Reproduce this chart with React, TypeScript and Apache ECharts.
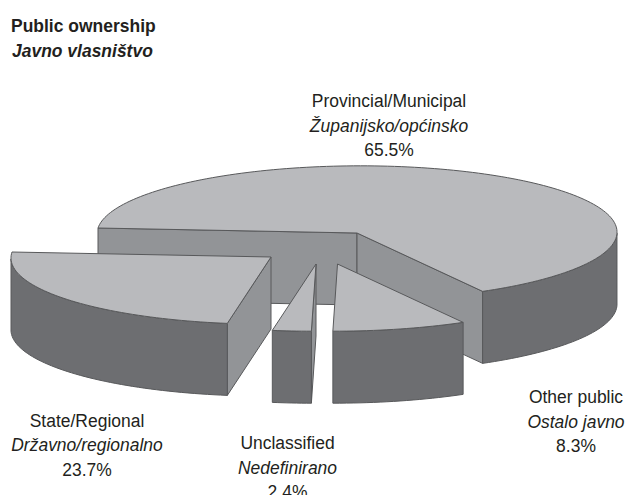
import React, { useEffect, useRef } from "react";
import * as echarts from "echarts";

// Share of each ownership class, in drawing order, clockwise from the left of the disc.
const categories = ["Provincial/Municipal", "Other public", "Unclassified", "State/Regional"];
const categoriesHr = ["Županijsko/općinsko", "Ostalo javno", "Nedefinirano", "Državno/regionalno"];
const values = [65.5, 8.3, 2.4, 23.7];

const headingLines = ["Public ownership", "Javno vlasništvo"];

// Where each slice's apex sits once exploded, and where its caption is centred.
const apexes = [
  [357, 233],
  [337.5, 264],
  [316, 264],
  [271, 257],
];
const captionAnchors = [
  [389, 125],
  [576, 421],
  [287.5, 467],
  [87, 444.5],
];

// Oblique projection of the unit circle onto the page.
const AXIS_U = [259, 5];
const AXIS_V = [-23, 67];
const DEPTH = 72;
const START_ANGLE = 180;

const TOP_COLOR = "#b9babd";
const OUTER_COLOR = "#6d6e71";
const CUT_COLOR = "#929497";
const EDGE_COLOR = "#58595b";
const TEXT_COLOR = "#231f20";
const FONT = '"Liberation Sans", Arial, sans-serif';
const FONT_SIZE = 19;
const TEXT_SQUEEZE = 0.92;

const rad = (d: number) => (d * Math.PI) / 180;
const rimOffset = (deg: number) => [
  AXIS_U[0] * Math.cos(rad(deg)) + AXIS_V[0] * Math.sin(rad(deg)),
  AXIS_U[1] * Math.cos(rad(deg)) + AXIS_V[1] * Math.sin(rad(deg)),
];
// The rim faces the viewer wherever it moves leftwards as the angle grows.
const faceFront = (deg: number) =>
  -AXIS_U[0] * Math.sin(rad(deg)) + AXIS_V[0] * Math.cos(rad(deg)) < 0;

const total = values.reduce((a, b) => a + b, 0);

function face(points: number[][], fill: string) {
  return {
    type: "polygon",
    shape: { points },
    style: { fill, stroke: EDGE_COLOR, lineWidth: 1, lineJoin: "round" },
  };
}

function renderSlice(params: any, api: any) {
  const i = params.dataIndex;
  const before = values.slice(0, i).reduce((a, b) => a + b, 0);
  const from = START_ANGLE + (before / total) * 360;
  const sweep = (api.value(0) / total) * 360;
  const to = from + sweep;
  const [ax, ay] = apexes[i];

  const steps = Math.max(8, Math.round(sweep / 1.5));
  const angles: number[] = [];
  for (let k = 0; k <= steps; k++) angles.push(from + (sweep * k) / steps);

  const rim = angles.map((a) => {
    const [dx, dy] = rimOffset(a);
    return [ax + dx, ay + dy];
  });
  const children: any[] = [];

  // Cut faces: a radial wall shows if the ground below its edge lies outside the slice.
  const mid = rimOffset(from + sweep / 2);
  [from, to].forEach((a) => {
    const [ex, ey] = rimOffset(a);
    const downSide = ex;
    const sliceSide = ex * mid[1] - ey * mid[0];
    if (downSide * sliceSide < 0) {
      children.push(
        face(
          [
            [ax, ay],
            [ax + ex, ay + ey],
            [ax + ex, ay + ey + DEPTH],
            [ax, ay + DEPTH],
          ],
          CUT_COLOR,
        ),
      );
    }
  });

  // Outer wall along the part of the rim turned to the viewer.
  const front = rim.filter((_, k) => faceFront(angles[k]));
  if (front.length > 1) {
    const lower = front.map(([x, y]) => [x, y + DEPTH]).reverse();
    children.push(face([...front, ...lower], OUTER_COLOR));
  }

  children.push(face([[ax, ay], ...rim], TOP_COLOR));
  return { type: "group", children };
}

function captionText(i: number) {
  const line = { fontFamily: FONT, fontSize: FONT_SIZE, lineHeight: 24.5, fill: TEXT_COLOR };
  return {
    type: "text",
    x: captionAnchors[i][0],
    y: captionAnchors[i][1],
    scaleX: TEXT_SQUEEZE,
    style: {
      text: `{a|${categories[i]}}\n{b|${categoriesHr[i]}}\n{a|${values[i].toFixed(1)}%}`,
      align: "center",
      verticalAlign: "middle",
      fill: TEXT_COLOR,
      rich: {
        a: line,
        b: { ...line, fontStyle: "italic" },
      },
    },
  };
}

function headingText(text: string, x: number, y: number, fontStyle: string) {
  return {
    type: "text",
    x,
    y,
    scaleX: TEXT_SQUEEZE,
    style: {
      text,
      fontFamily: FONT,
      fontSize: FONT_SIZE,
      fontWeight: "bold",
      fontStyle,
      fill: TEXT_COLOR,
      verticalAlign: "middle",
    },
  };
}

export default function App() {
  const ref = useRef<HTMLDivElement>(null);

  useEffect(() => {
    document.body.style.margin = "0";
    const chart = echarts.init(ref.current!, undefined, { renderer: "svg" });
    chart.setOption({
      animation: false,
      backgroundColor: "#ffffff",
      series: [
        {
          type: "custom",
          coordinateSystem: "none",
          clip: false,
          renderItem: renderSlice,
          data: values.map((v, i) => ({ name: categories[i], value: [v] })),
        },
      ],
      graphic: [
        headingText(headingLines[0], 11, 25.5, "normal"),
        headingText(headingLines[1], 12, 50.5, "italic"),
        ...values.map((_, i) => captionText(i)),
      ],
    });
    return () => chart.dispose();
  }, []);

  return <div ref={ref} style={{ width: 626, height: 495, overflow: "hidden" }} />;
}
